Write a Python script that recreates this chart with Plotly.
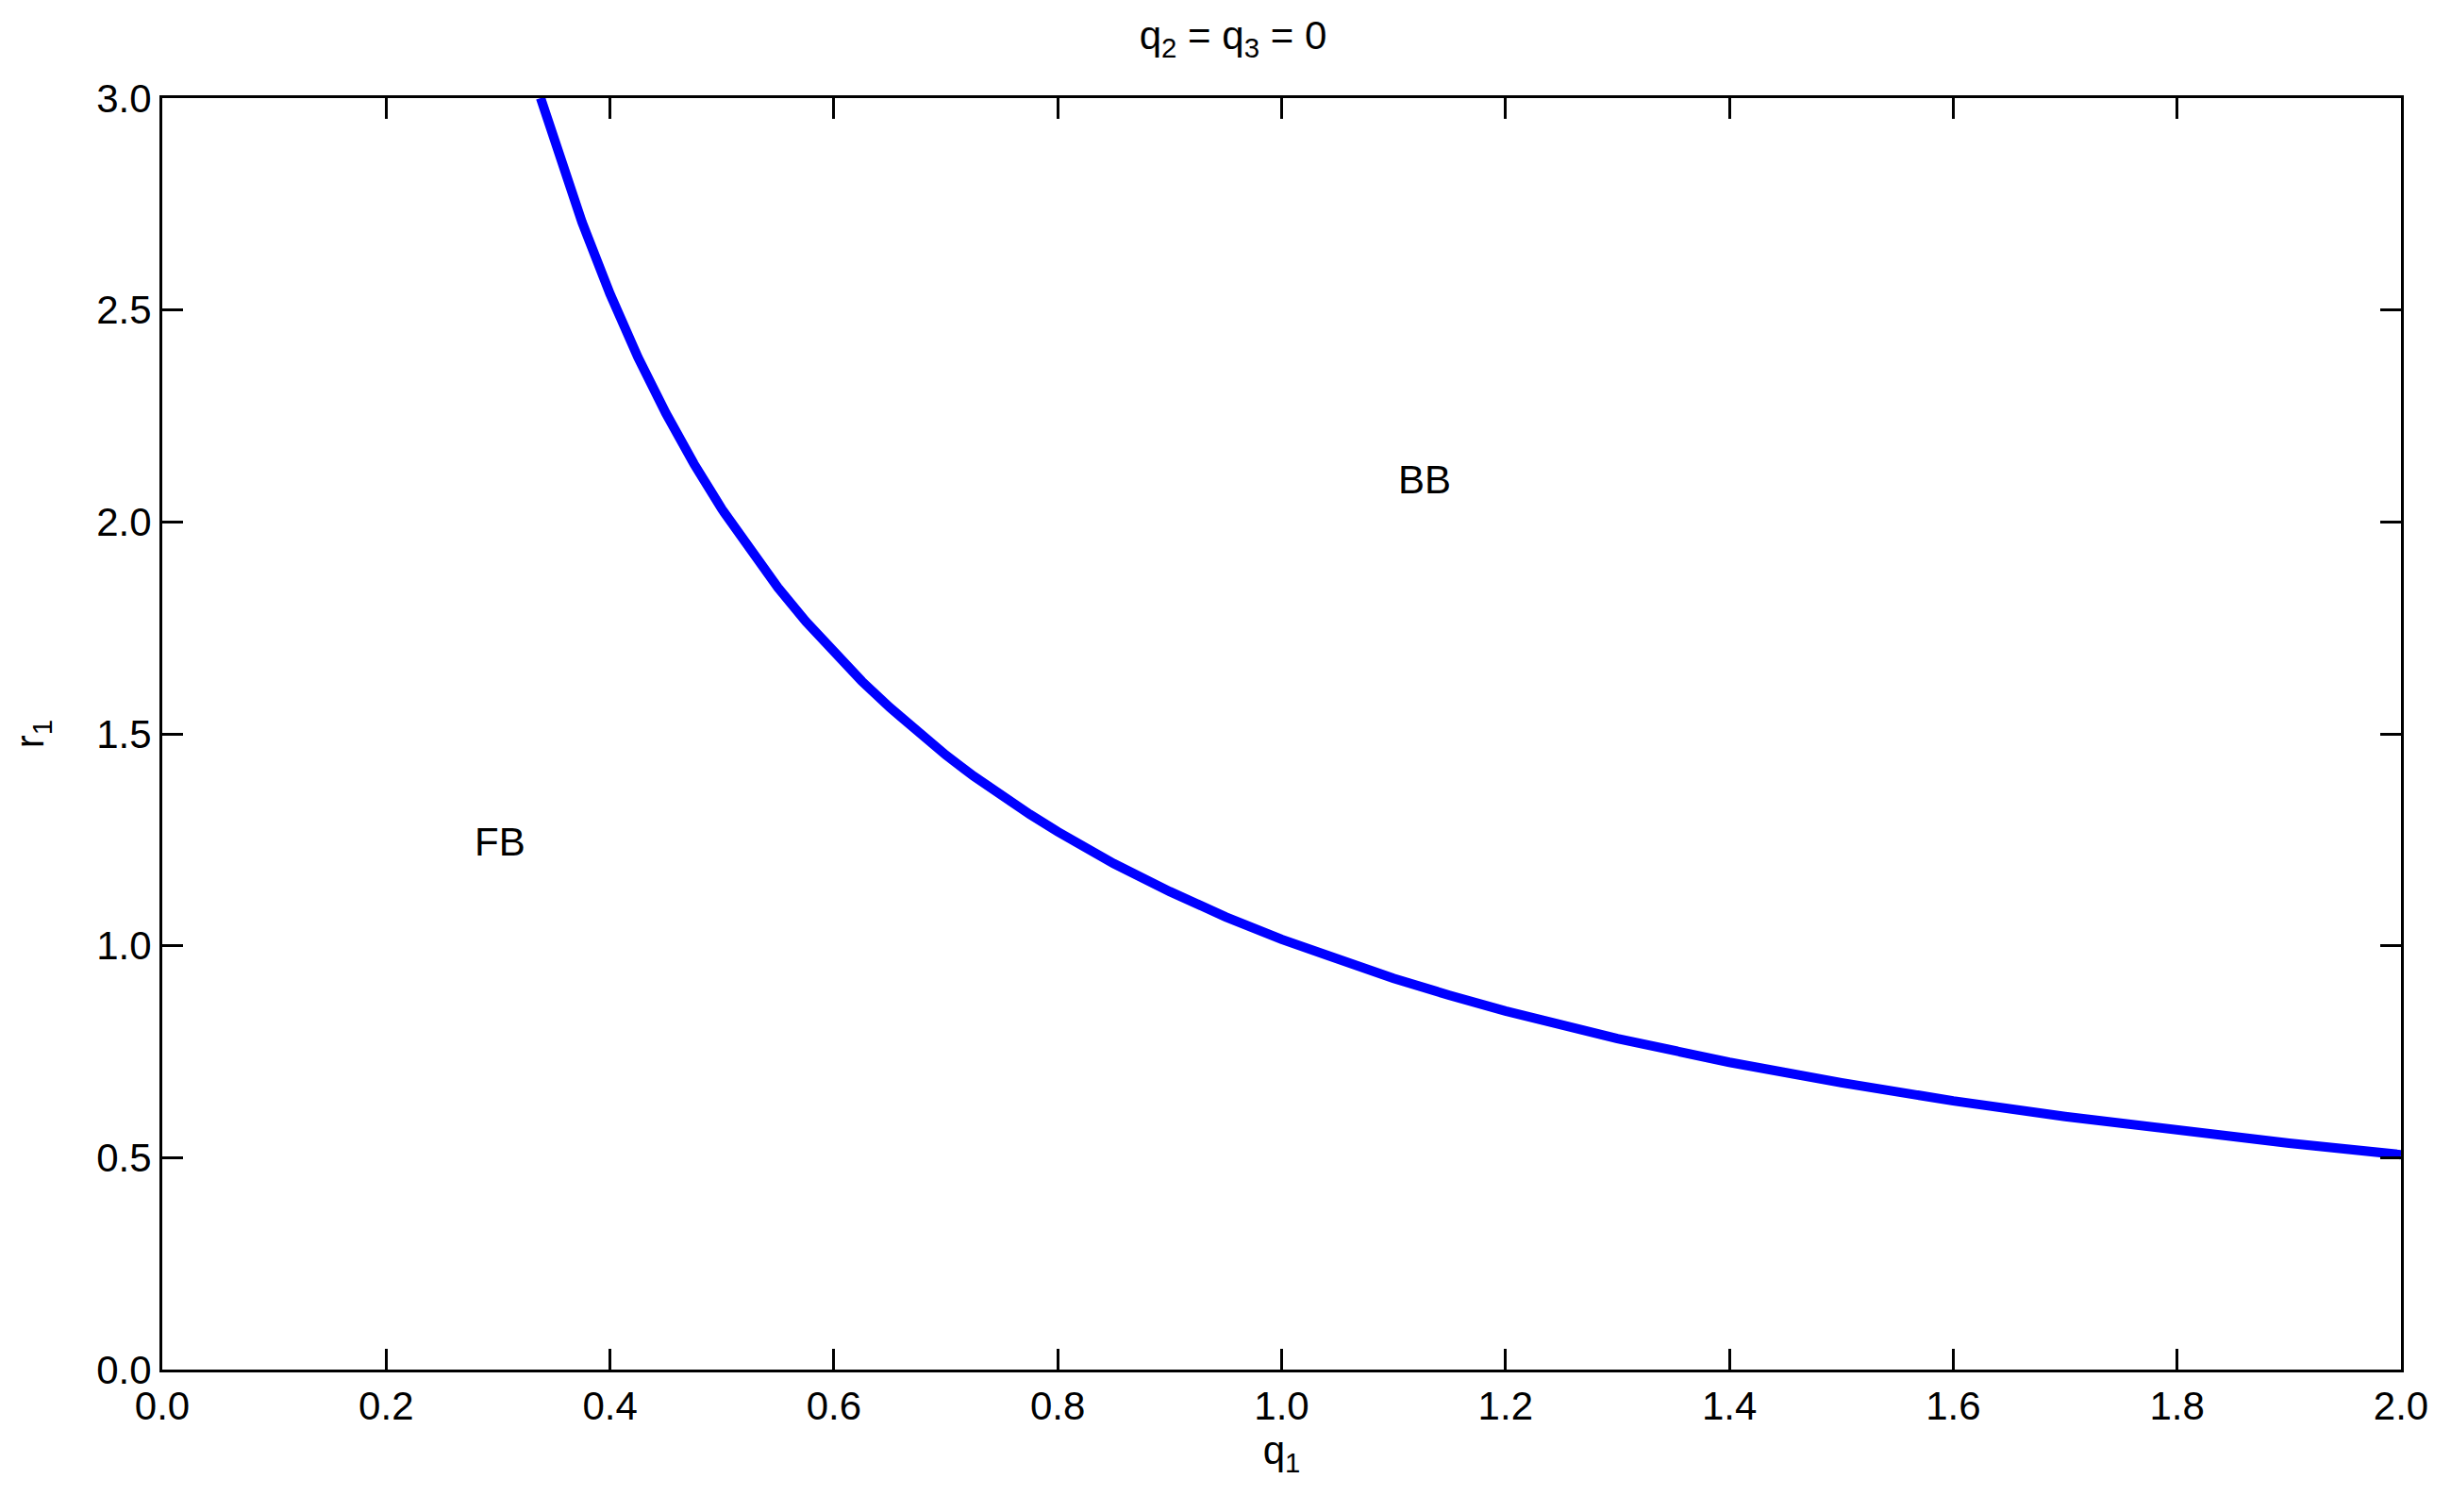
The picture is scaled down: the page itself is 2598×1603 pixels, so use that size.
"""Phase boundary r1 vs q1 for q2 = q3 = 0."""

import plotly.graph_objects as go

# boundary curve
q1 = [0.338, 0.350, 0.375, 0.400, 0.425, 0.450, 0.475, 0.500, 0.525, 0.550,
      0.575, 0.600, 0.625, 0.650, 0.675, 0.700, 0.725, 0.750, 0.775, 0.800,
      0.850, 0.900, 0.950, 1.000, 1.050, 1.100, 1.150, 1.200, 1.300, 1.400,
      1.500, 1.600, 1.700, 1.800, 1.900, 2.000]
r1 = [3.000, 2.900, 2.707, 2.538, 2.388, 2.256, 2.137, 2.030, 1.933, 1.845,
      1.765, 1.692, 1.624, 1.562, 1.504, 1.450, 1.400, 1.353, 1.310, 1.269,
      1.194, 1.128, 1.068, 1.015, 0.967, 0.923, 0.883, 0.846, 0.781, 0.725,
      0.677, 0.634, 0.597, 0.564, 0.534, 0.507]

# region labels
region_names = ["BB", "FB"]
region_q = [1.128, 0.302]
region_r = [2.10, 1.246]

FONT = "Liberation Sans, Arial, Helvetica, sans-serif"
W, H = 2598, 1603

fig = go.Figure(go.Scatter(
    x=q1,
    y=r1,
    mode="lines",
    line=dict(color="#0000ff", width=10),
    showlegend=False,
    hoverinfo="skip",
))

for name, qx, ry in zip(region_names, region_q, region_r):
    fig.add_annotation(x=qx, y=ry, text=name, showarrow=False,
                       font=dict(size=42, color="black", family=FONT))

axis = dict(
    showline=True, linewidth=3, linecolor="black", mirror="ticks",
    ticks="inside", ticklen=22, tickwidth=3, tickcolor="black",
    showgrid=False, zeroline=False, tickformat=".1f", automargin=False,
    tickfont=dict(size=42, color="black", family=FONT),
)

# the page body adds an 8px offset, so left/top margins are 8px smaller
fig.update_layout(
    width=W, height=H,
    paper_bgcolor="white", plot_bgcolor="white",
    margin=dict(l=164, r=61, t=96, b=159),
    font=dict(family=FONT, size=42, color="black"),
    title=dict(text="q<sub>2</sub> = q<sub>3</sub> = 0", x=0.5, xanchor="center",
               y=1 - 29 / H, yanchor="middle", font=dict(size=42)),
    xaxis=dict(axis, range=[0, 2], dtick=0.2, tick0=0,
               title=dict(text="q<sub>1</sub>", standoff=9, font=dict(size=42))),
    yaxis=dict(axis, range=[0, 3], dtick=0.5, tick0=0,
               title=dict(text="r<sub>1</sub>", standoff=45, font=dict(size=42))),
)

fig.write_html("out.html")
